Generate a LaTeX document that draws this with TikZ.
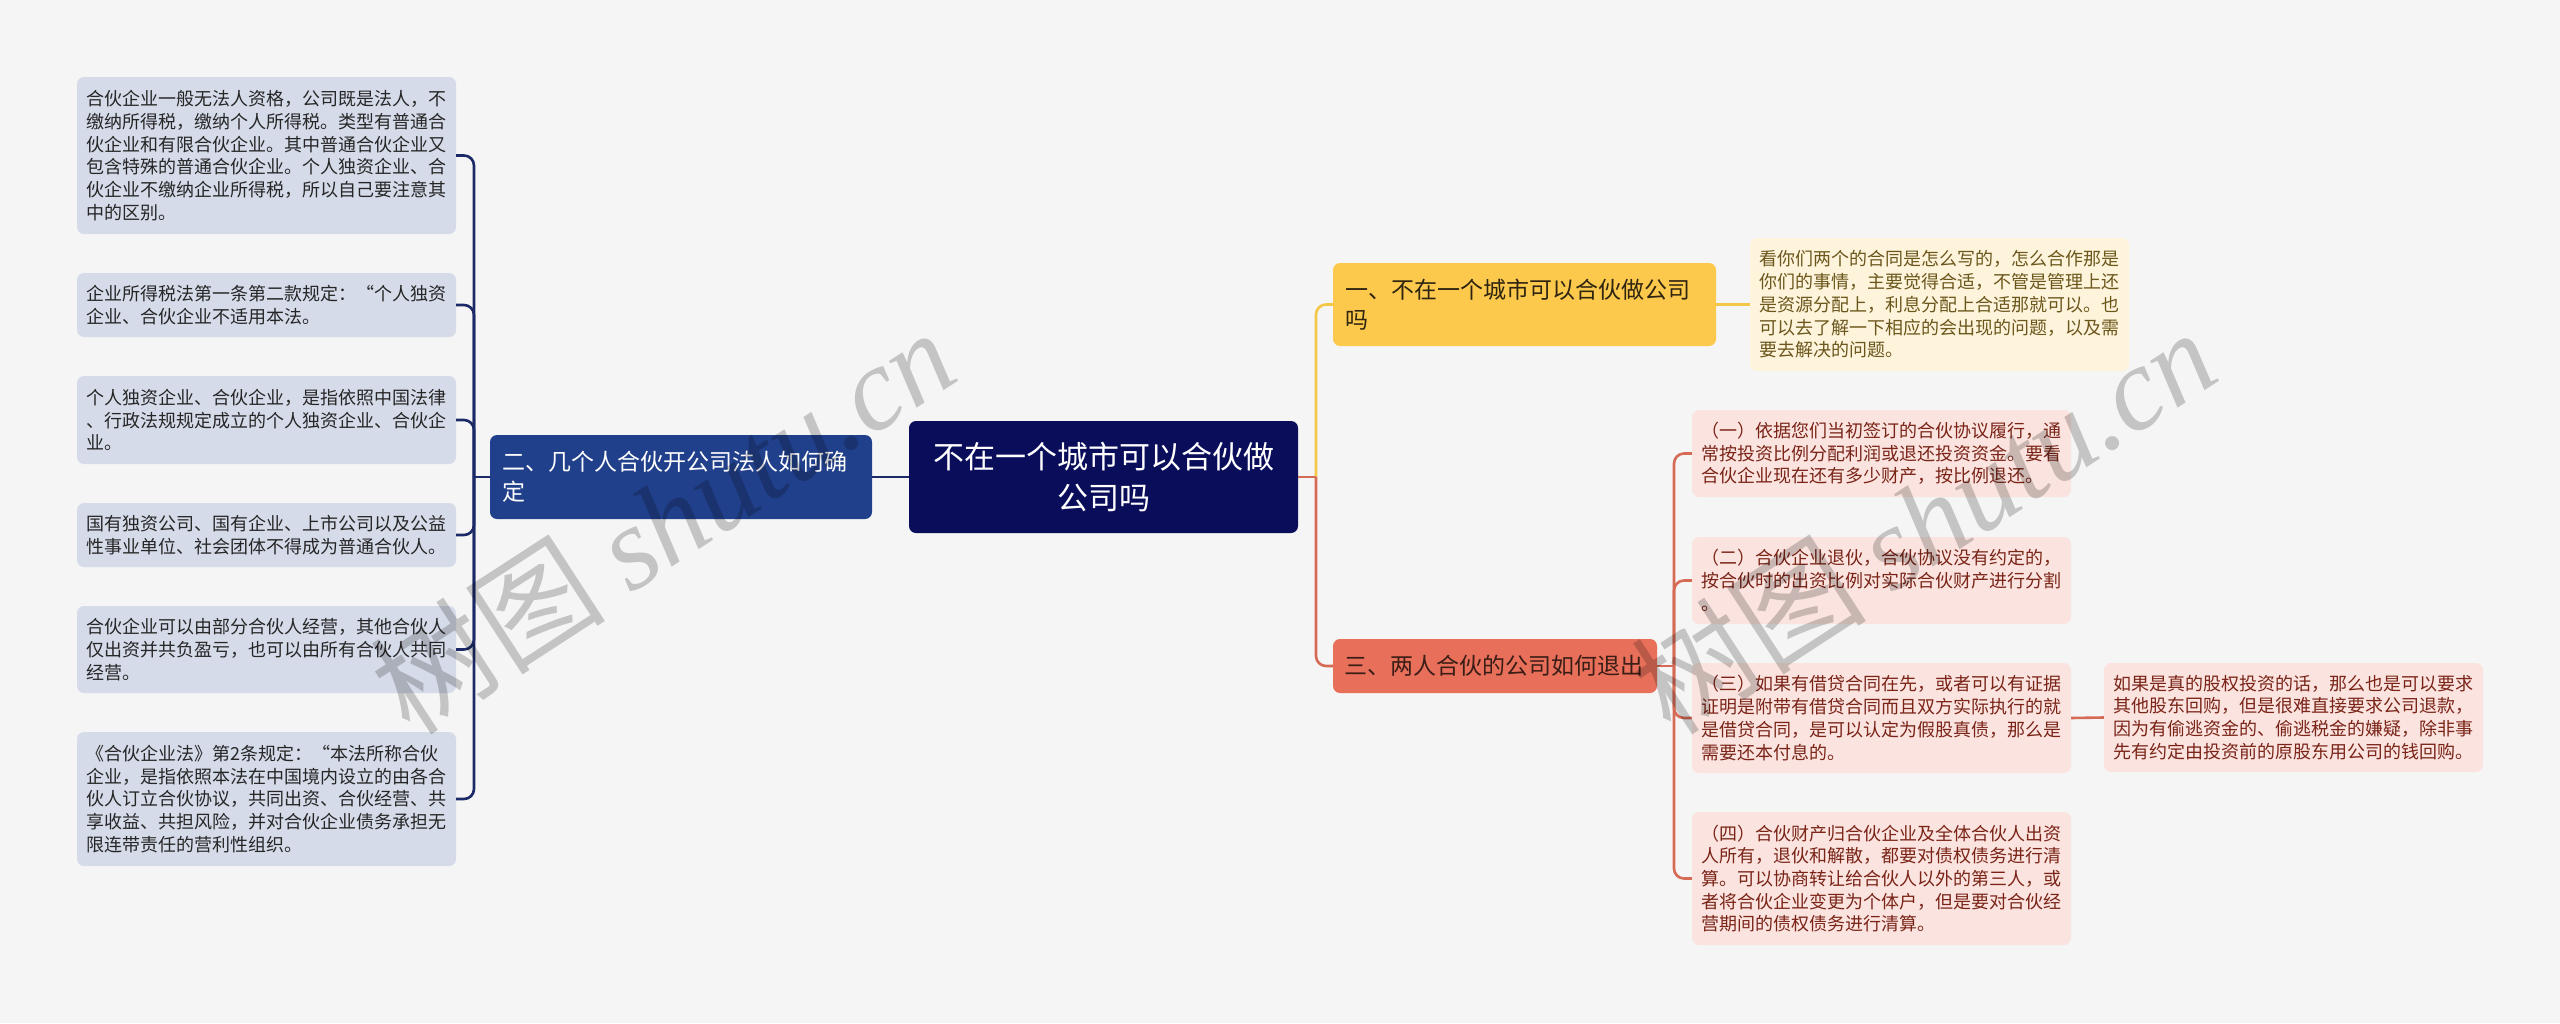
\documentclass[tikz,border=0pt]{standalone}
\usepackage{fontspec}
\setmainfont{Noto Sans CJK SC}
\newfontfamily\wmfont{Liberation Serif}
\usepackage{xcolor}
\usepackage{tikz}

\definecolor{bgcol}{HTML}{F5F5F5}
\definecolor{rootcol}{HTML}{0A0E5A}
\definecolor{navycol}{HTML}{21408B}
\definecolor{navyline}{HTML}{1B2A66}
\definecolor{leafblue}{HTML}{D5DBE9}
\definecolor{lefttext}{HTML}{262626}
\definecolor{yelcol}{HTML}{FCC94C}
\definecolor{yelline}{HTML}{F5C748}
\definecolor{yelleaf}{HTML}{FEF4DB}
\definecolor{yeltext}{HTML}{6B561C}
\definecolor{yeldark}{HTML}{2E2410}
\definecolor{redcol}{HTML}{E8705A}
\definecolor{redline}{HTML}{D56A55}
\definecolor{redleaf}{HTML}{FBE4DF}
\definecolor{redtext}{HTML}{7A2418}
\definecolor{reddark}{HTML}{3A1D16}

\begin{document}
\begin{tikzpicture}[x=1pt,y=-1pt,
  box/.style={rounded corners=7pt,inner ysep=0pt,align=left},
  leaf/.style={box,text width=360pt,inner xsep=9.5pt,minimum height=#1,
               font=\fontsize{18}{22.7}\selectfont},
  leafL/.style={leaf=#1,fill=leafblue,text=lefttext},
  leafY/.style={leaf=#1,fill=yelleaf,text=yeltext},
  leafR/.style={leaf=#1,fill=redleaf,text=redtext},
  branch/.style={box,inner xsep=12pt,font=\fontsize{23}{30}\selectfont},
  lline/.style={draw=navyline,line width=2.6pt},
  yline/.style={draw=yelline,line width=2.6pt},
  rline/.style={draw=redline,line width=2.6pt},
  wm/.style={text=black,text opacity=0.2,font=\fontsize{118}{118}\selectfont}]

  \fill[bgcol] (0,0) rectangle (2560,1023);

  \node[box,fill=rootcol,text=white,align=center,text width=360pt,inner xsep=14.5pt,
        minimum height=112pt,font=\fontsize{31}{41}\selectfont]
        (root) at (1103.5,477) {不在一个城市可以合伙做\\公司吗};

  \node[branch,fill=navycol,text=white,text width=358pt,minimum height=84pt]
        (lmain) at (681,477) {二、几个人合伙开公司法人如何确\\定};
  \node[branch,fill=yelcol,text=yeldark,text width=359pt,minimum height=83pt]
        (yel) at (1524.5,304.5) {一、不在一个城市可以合伙做公司\\吗};
  \node[branch,fill=redcol,text=reddark,inner xsep=11pt,text width=302pt,minimum height=54pt]
        (red) at (1495,666) {三、两人合伙的公司如何退出};

  \node[leafL=157pt] (l1) at (266.5,155.5)
    {合伙企业一般无法人资格，公司既是法人，不\\缴纳所得税，缴纳个人所得税。类型有普通合\\伙企业和有限合伙企业。其中普通合伙企业又\\包含特殊的普通合伙企业。个人独资企业、合\\伙企业不缴纳企业所得税，所以自己要注意其\\中的区别。};
  \node[leafL=64pt] (l2) at (266.5,305)
    {企业所得税法第一条第二款规定：“个人独资\\企业、合伙企业不适用本法。};
  \node[leafL=88pt] (l3) at (266.5,420)
    {个人独资企业、合伙企业，是指依照中国法律\\、行政法规规定成立的个人独资企业、合伙企\\业。};
  \node[leafL=64pt] (l4) at (266.5,535)
    {国有独资公司、国有企业、上市公司以及公益\\性事业单位、社会团体不得成为普通合伙人。};
  \node[leafL=87pt] (l5) at (266.5,649.5)
    {合伙企业可以由部分合伙人经营，其他合伙人\\仅出资并共负盈亏，也可以由所有合伙人共同\\经营。};
  \node[leafL=134pt] (l6) at (266.5,799)
    {《合伙企业法》第2条规定：“本法所称合伙\\企业，是指依照本法在中国境内设立的由各合\\伙人订立合伙协议，共同出资、合伙经营、共\\享收益、共担风险，并对合伙企业债务承担无\\限连带责任的营利性组织。};

  \node[leafY=133pt] (yleaf) at (1939.5,304.5)
    {看你们两个的合同是怎么写的，怎么合作那是\\你们的事情，主要觉得合适，不管是管理上还\\是资源分配上，利息分配上合适那就可以。也\\可以去了解一下相应的会出现的问题，以及需\\要去解决的问题。};

  \node[leafR=87pt] (r1) at (1881.5,453.5)
    {（一）依据您们当初签订的合伙协议履行，通\\常按投资比例分配利润或退还投资资金。要看\\合伙企业现在还有多少财产，按比例退还。};
  \node[leafR=87pt] (r2) at (1881.5,580.5)
    {（二）合伙企业退伙，合伙协议没有约定的，\\按合伙时的出资比例对实际合伙财产进行分割\\。};
  \node[leafR=110pt] (r3) at (1881.5,718)
    {（三）如果有借贷合同在先，或者可以有证据\\证明是附带有借贷合同而且双方实际执行的就\\是借贷合同，是可以认定为假股真债，那么是\\需要还本付息的。};
  \node[leafR=133pt] (r4) at (1881.5,878.5)
    {（四）合伙财产归合伙企业及全体合伙人出资\\人所有，退伙和解散，都要对债权债务进行清\\算。可以协商转让给合伙人以外的第三人，或\\者将合伙企业变更为个体户，但是要对合伙经\\营期间的债权债务进行清算。};
  \node[leafR=109pt] (sub) at (2293.5,717.5)
    {如果是真的股权投资的话，那么也是可以要求\\其他股东回购，但是很难直接要求公司退款，\\因为有偷逃资金的、偷逃税金的嫌疑，除非事\\先有约定由投资前的原股东用公司的钱回购。};

  \coordinate (lj) at (474,477);
  \coordinate (rj) at (1316,477);
  \coordinate (bj) at (1674,666);

  \draw[lline] (root.west) -- (lmain.east);
  \draw[lline] (lmain.west) -- (lj);
  \foreach \n in {l1,l2,l3,l4,l5,l6}
    \draw[lline,rounded corners=10pt] (lj) |- (\n.east);

  \draw[yline,rounded corners=10pt] (rj) |- (yel.west);
  \draw[yline] (yel.east) -- (yleaf.west);
  \draw[rline,rounded corners=10pt] (rj) |- (red.west);
  \draw[rline] (root.east) -- (rj);

  \draw[rline] (red.east) -- (bj);
  \foreach \n in {r1,r2,r3,r4}
    \draw[rline,rounded corners=10pt] (bj) |- (\n.west);
  \draw[rline] (r3.east) -- (sub.west);

  \node[wm,rotate=33] (wm1) at (662,520) {树图 {\wmfont\itshape shutu.cn}};
  \node[wm,rotate=33] (wm2) at (1923,520) {树图 {\wmfont\itshape shutu.cn}};

\end{tikzpicture}
\end{document}
